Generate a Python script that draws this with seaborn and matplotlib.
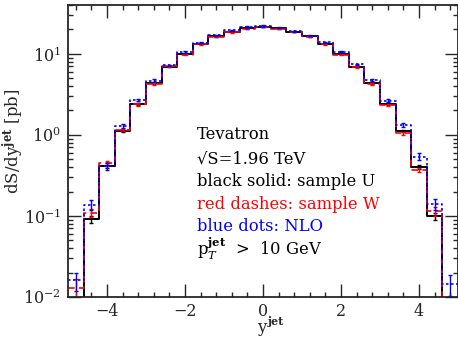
import numpy as np
import pandas as pd
import matplotlib
matplotlib.use("Agg")
import matplotlib.pyplot as plt
import seaborn as sns
from matplotlib.ticker import MultipleLocator, LogLocator, NullFormatter

# ---- data ----
bin_centers = [-4.8, -4.4, -4.0, -3.6, -3.2, -2.8, -2.4, -2.0, -1.6, -1.2, -0.8, -0.4,
               0.0, 0.4, 0.8, 1.2, 1.6, 2.0, 2.4, 2.8, 3.2, 3.6, 4.0, 4.4, 4.8]
bin_width = 0.4
sample_U = [0.0, 0.092, 0.41, 1.12, 2.41, 4.35, 6.97, 10.0, 13.4, 16.5, 18.8, 20.8,
            21.7, 20.6, 18.8, 16.5, 13.4, 10.0, 6.97, 4.35, 2.40, 1.13, 0.40, 0.10, 0.0]
sample_W = [0.013, 0.11, 0.445, 1.15, 2.37, 4.25, 7.0, 9.8, 13.1, 16.3, 18.5, 20.5,
            21.5, 20.4, 18.6, 16.3, 13.2, 9.8, 6.9, 4.25, 2.35, 1.05, 0.37, 0.115, 0.0]
nlo = [0.016, 0.138, 0.41, 1.30, 2.7, 4.68, 7.2, 10.5, 13.7, 16.9, 19.4, 21.5,
       22.0, 21.0, 19.0, 16.8, 13.9, 10.6, 7.4, 4.72, 2.65, 1.34, 0.54, 0.14, 0.0145]
rel_err_U = [0.0, 0.10, 0.05, 0.03, 0.02, 0.02, 0.02, 0.015, 0.015, 0.015, 0.015, 0.015,
             0.015, 0.015, 0.015, 0.015, 0.015, 0.015, 0.02, 0.02, 0.02, 0.03, 0.05, 0.10, 0.0]
rel_err_W = [0.3, 0.12, 0.06, 0.04, 0.03, 0.02, 0.02, 0.015, 0.015, 0.015, 0.015, 0.015,
             0.015, 0.015, 0.015, 0.015, 0.015, 0.015, 0.02, 0.02, 0.03, 0.04, 0.06, 0.12, 0.0]
rel_err_NLO = [0.25, 0.15, 0.10, 0.06, 0.04, 0.03, 0.02, 0.02, 0.02, 0.02, 0.02, 0.02,
               0.02, 0.02, 0.02, 0.02, 0.02, 0.02, 0.02, 0.03, 0.04, 0.06, 0.10, 0.15, 0.30]
info_lines = ["Tevatron", "\u221aS=1.96 TeV", "black solid: sample U",
              "red dashes: sample W", "blue dots: NLO", r"p$_T^{\bf jet}$  >  10 GeV"]
info_colors = ["black", "black", "black", "red", "blue", "black"]

# ---- style ----
sns.set_style("ticks")
plt.rcParams["font.family"] = ["DejaVu Serif"]
plt.rcParams["mathtext.fontset"] = "dejavuserif"
plt.rcParams["font.size"] = 11.5

W, H = 458, 338
fig = plt.figure(figsize=(W / 100, H / 100), dpi=100)
ax = fig.add_axes([68 / W, (H - 297) / H, 390 / W, 292 / H])

centers = np.array(bin_centers)
edges = np.append(centers - bin_width / 2, centers[-1] + bin_width / 2)

series = [
    (sample_U, rel_err_U, "black", "-", 1.4),
    (sample_W, rel_err_W, "red", (0, (4, 2.5)), 1.2),
    (nlo, rel_err_NLO, "blue", (0, (1.5, 1.5)), 1.2),
]

for vals, rel, color, ls, lw in series:
    v = np.array(vals, dtype=float)
    yv = np.where(v > 0, v, 1e-5)
    df = pd.DataFrame({"x": edges, "y": np.append(yv, yv[-1])})
    sns.lineplot(data=df, x="x", y="y", ax=ax, color=color, linestyle=ls, lw=lw,
                 drawstyle="steps-post", sort=False, estimator=None, legend=False)
    mask = v > 0
    err = v * np.array(rel)
    ax.errorbar(centers[mask], v[mask], yerr=err[mask], fmt="none", ecolor=color,
                elinewidth=1.0, capsize=1.5, capthick=1.0)

ax.set_yscale("log")
ax.set_xlim(-5, 5)
ax.set_ylim(0.01, 40)

ax.xaxis.set_major_locator(MultipleLocator(2))
ax.xaxis.set_minor_locator(MultipleLocator(0.4))
ax.yaxis.set_major_locator(LogLocator(base=10))
ax.yaxis.set_minor_locator(LogLocator(base=10, subs=np.arange(2, 10)))
ax.yaxis.set_minor_formatter(NullFormatter())
ax.tick_params(which="both", direction="in", top=True, right=True, width=1.0)
ax.tick_params(which="major", length=9.5, labelsize=11.5)
ax.tick_params(axis="x", which="major", pad=4)
ax.tick_params(axis="y", which="major", pad=5)
ax.tick_params(which="minor", length=3.8)
for s in ax.spines.values():
    s.set_linewidth(1.3)

# x label: "y" with bold superscript "jet"
ax.set_xlabel("y", fontsize=12, va="baseline")
ax.xaxis.set_label_coords((262 - 68) / 390, -(332 - 297) / 292)
ax.text((268 - 68) / 390, -(325 - 297) / 292, "jet", transform=ax.transAxes,
        fontsize=8, fontweight="bold", ha="left", va="baseline")

ax.set_ylabel(r"dS/dy$^{\bf jet}$ [pb]", fontsize=12, va="center")
ax.yaxis.set_label_coords(-(68 - 13) / 390, (297 - 141) / 292)

y_pos = [0.555, 0.472, 0.395, 0.316, 0.241, 0.166]
for t, c, yy in zip(info_lines, info_colors, y_pos):
    ax.text(0.331, yy, t, color=c, transform=ax.transAxes, va="center", ha="left",
            fontsize=11.8)

fig.savefig("out.png", dpi=100)
